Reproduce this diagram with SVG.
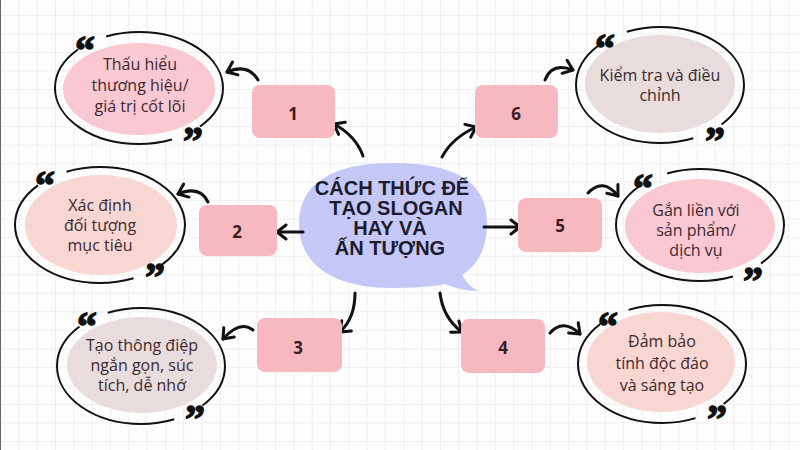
<svg xmlns="http://www.w3.org/2000/svg" width="800" height="450" viewBox="0 0 800 450">
  <defs>
    <pattern id="grid" x="0" y="15" width="18.33" height="18.52" patternUnits="userSpaceOnUse">
      <path d="M0,0 H18.33 M0,0 V18.52" fill="none" stroke="#e2e2e2" stroke-width="1"/>
    </pattern>
    <marker id="ah" viewBox="-12 -10 14 20" refX="0" refY="0" markerWidth="14" markerHeight="20" markerUnits="userSpaceOnUse" orient="auto">
      <path d="M-9,-7 L0,0 L-9,7" fill="none" stroke="#111" stroke-width="3" stroke-linecap="round" stroke-linejoin="round"/>
    </marker>
    <style>
      .conn { fill: none; stroke: #111; stroke-width: 3; stroke-linecap: round; marker-end: url(#ah); }
      .box { fill: #f7b8c0; }
      .num { font-family: "Open Sans", "Liberation Sans", sans-serif; font-weight: bold; font-size: 17px; fill: #3a1c24; text-anchor: middle; }
      .ring { fill: none; stroke: #111; stroke-width: 2; stroke-dasharray: 10.5 7 43 7 32.5; }
      .txt { font-family: "Open Sans", "Liberation Sans", sans-serif; font-size: 16px; fill: #3b2a30; text-anchor: middle; }
      .q { font-family: "Liberation Serif", serif; font-weight: bold; font-size: 40px; fill: #111; stroke: #111; stroke-width: 1.4; stroke-linejoin: round; text-anchor: middle; }
      .title { font-family: "Liberation Sans", Arial, sans-serif; font-weight: bold; font-size: 20px; fill: #1c1c2e; text-anchor: middle; }
      .pink { fill: #f9c8d2; }
      .peach { fill: #f8d6d1; }
      .grey { fill: #e8dcdd; }
    </style>
  </defs>

  <rect width="800" height="450" fill="#fdfdfd"/>
  <rect width="800" height="450" fill="url(#grid)"/>
  <line x1="0.5" y1="0" x2="0.5" y2="450" stroke="#666" stroke-width="1"/>

  <g id="center">
    <path d="M392,163 C460,163 487,185 487,222 C487,248 478,265 462,275 C466,282 471,287 478,291 C466,291 455,288 445,284 C430,287 412,288 392,288 C330,288 299,262 299,224 C299,185 330,163 392,163 Z" fill="#c5c8f7"/>
    <text class="title" x="392" y="195">CÁCH THỨC ĐỂ</text>
    <text class="title" x="396" y="215">TẠO SLOGAN</text>
    <text class="title" x="390" y="235">HAY VÀ</text>
    <text class="title" x="390" y="255">ẤN TƯỢNG</text>
  </g>

  <g id="connectors">
    <path class="conn" d="M363,156 Q356,136 334,124"/>
    <path class="conn" d="M442,157 Q452,138 476,127"/>
    <path class="conn" d="M258,80 Q248,63 227,72"/>
    <path class="conn" d="M303,232 L277,232"/>
    <path class="conn" d="M208,202 Q200,185 178,194"/>
    <path class="conn" d="M355,293 Q355,318 340,332"/>
    <path class="conn" d="M253,330 Q240,320 223,339"/>
    <path class="conn" d="M440,293 Q443,318 462,332"/>
    <path class="conn" d="M550,333 Q563,318 580,334"/>
    <path class="conn" d="M484,227 L520,227"/>
    <path class="conn" d="M588,193 Q603,177 618,196"/>
    <path class="conn" d="M545,80 Q552,62 573,70"/>
  </g>

  <g id="box1">
    <rect class="box" x="252" y="85" width="83" height="53" rx="8"/>
    <text class="num" x="293" y="120">1</text>
  </g>
  <g id="box2">
    <rect class="box" x="199" y="205" width="78" height="51" rx="8"/>
    <text class="num" x="237" y="238">2</text>
  </g>
  <g id="box3">
    <rect class="box" x="257" y="318" width="85" height="54" rx="8"/>
    <text class="num" x="298" y="354">3</text>
  </g>
  <g id="box4">
    <rect class="box" x="461" y="319" width="84" height="54" rx="8"/>
    <text class="num" x="503" y="354">4</text>
  </g>
  <g id="box5">
    <rect class="box" x="518" y="198" width="84" height="54" rx="8"/>
    <text class="num" x="560" y="232">5</text>
  </g>
  <g id="box6">
    <rect class="box" x="475" y="85" width="83" height="53" rx="8"/>
    <text class="num" x="516" y="120">6</text>
  </g>

  <g id="node1">
    <ellipse class="pink" cx="139" cy="89" rx="76" ry="46"/>
    <ellipse class="ring" cx="139" cy="88" rx="84" ry="56" pathLength="100"/>
    <text class="q" x="85" y="64">“</text>
    <text class="q" x="193" y="154">”</text>
    <text class="txt" x="140" y="70">Thấu hiểu</text>
    <text class="txt" x="140" y="91">thương hiệu/</text>
    <text class="txt" x="140" y="112">giá trị cốt lõi</text>
  </g>

  <g id="node2">
    <ellipse class="peach" cx="101" cy="225" rx="76" ry="50"/>
    <ellipse class="ring" cx="100" cy="225" rx="85" ry="58" pathLength="100"/>
    <text class="q" x="45" y="199">“</text>
    <text class="q" x="155" y="290">”</text>
    <text class="txt" x="100" y="211">Xác định</text>
    <text class="txt" x="100" y="231">đối tượng</text>
    <text class="txt" x="100" y="251">mục tiêu</text>
  </g>

  <g id="node3">
    <ellipse class="grey" cx="142" cy="365" rx="75" ry="48"/>
    <ellipse class="ring" cx="141" cy="366" rx="84" ry="58" pathLength="100"/>
    <text class="q" x="87" y="340">“</text>
    <text class="q" x="195" y="432">”</text>
    <text class="txt" x="142" y="351">Tạo thông điệp</text>
    <text class="txt" x="142" y="371">ngắn gọn, súc</text>
    <text class="txt" x="142" y="391">tích, dễ nhớ</text>
  </g>

  <g id="node4">
    <ellipse class="peach" cx="661" cy="362" rx="74" ry="50"/>
    <ellipse class="ring" cx="662" cy="364" rx="84" ry="59" pathLength="100"/>
    <text class="q" x="608" y="340">“</text>
    <text class="q" x="717" y="432">”</text>
    <text class="txt" x="662" y="347">Đảm bảo</text>
    <text class="txt" x="662" y="369">tính độc đáo</text>
    <text class="txt" x="662" y="391">và sáng tạo</text>
  </g>

  <g id="node5">
    <ellipse class="pink" cx="700" cy="226" rx="75" ry="47"/>
    <ellipse class="ring" cx="700" cy="225" rx="84" ry="56" pathLength="100"/>
    <text class="q" x="643" y="202">“</text>
    <text class="q" x="753" y="294">”</text>
    <text class="txt" x="696" y="216">Gắn liền với</text>
    <text class="txt" x="696" y="236">sản phẩm/</text>
    <text class="txt" x="696" y="256">dịch vụ</text>
  </g>

  <g id="node6">
    <ellipse class="grey" cx="660" cy="84" rx="75" ry="49"/>
    <ellipse class="ring" cx="660" cy="85" rx="84" ry="58" pathLength="100"/>
    <text class="q" x="605" y="62">“</text>
    <text class="q" x="715" y="154">”</text>
    <text class="txt" x="660" y="81">Kiểm tra và điều</text>
    <text class="txt" x="660" y="101">chỉnh</text>
  </g>
</svg>
